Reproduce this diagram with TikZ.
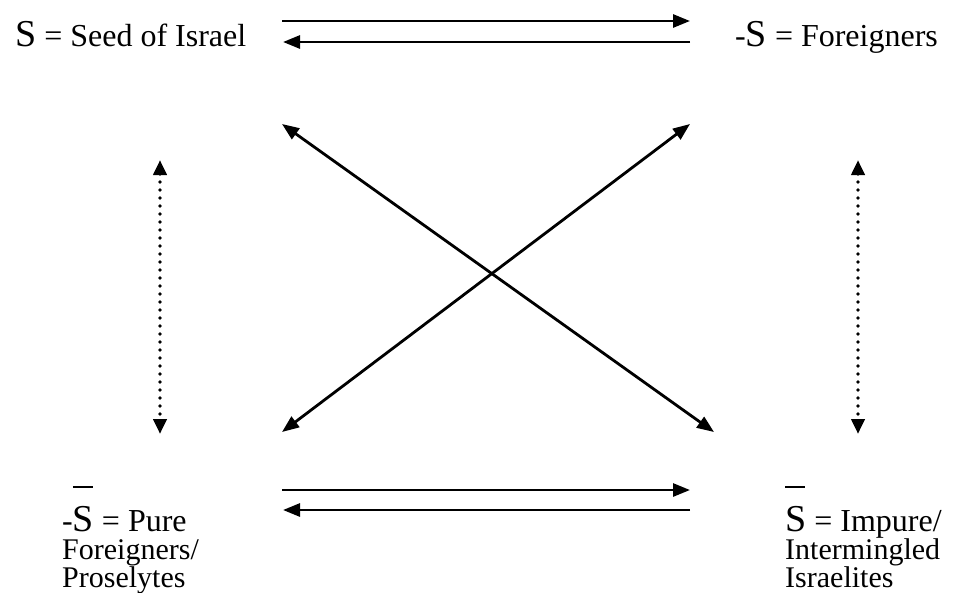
\documentclass[tikz,border=0pt]{standalone}
\usepackage{fontspec}
\setmainfont{Liberation Serif}
\usetikzlibrary{arrows.meta}
\newcommand{\barS}{\makebox[0pt][l]{\raisebox{1.12em}{\rule{0.52em}{0.055em}}}S}
\newcommand{\bigS}[1]{{\fontsize{38}{40}\selectfont #1}}
\newcommand{\firstline}[1]{{\fontsize{32}{28}\selectfont #1}}
\tikzset{
  lbl/.style={anchor=base west, inner sep=0pt, align=left, font=\fontsize{30}{28}\selectfont},
  hlbl/.style={anchor=base west, inner sep=0pt, font=\fontsize{32}{34}\selectfont},
  arr/.style={line width=2.8pt, -{Triangle[length=17pt,width=13pt]}},
  darr/.style={line width=2.8pt, {Triangle[length=17pt,width=13pt]}-{Triangle[length=17pt,width=13pt]}},
  dotarr/.style={line width=3.8pt, line cap=round, dash pattern=on 0pt off 8pt,
     {Triangle[length=15pt,width=13pt,line cap=butt]}-{Triangle[length=15pt,width=13pt,line cap=butt]}}
}
\begin{document}
\begin{tikzpicture}[x=1pt,y=-1pt]
\useasboundingbox (0,0) rectangle (955,592);
% labels
\node[hlbl] (tl) at (15,46) {\bigS{S} = Seed of Israel};
\node[hlbl] (tr) at (735,46) {-\bigS{S} = Foreigners};
\node[lbl] (bl) at (62,587) {\firstline{-\bigS{\barS} = Pure}\\Foreigners/\\Proselytes};
\node[lbl] (br) at (785,587) {\firstline{\bigS{\barS} = Impure/}\\Intermingled\\Israelites};
% anchor coordinates
\coordinate (t1a) at (282,21);  \coordinate (t1b) at (690,21);
\coordinate (t2a) at (283,42);  \coordinate (t2b) at (690,42);
\coordinate (b1a) at (282,490); \coordinate (b1b) at (690,490);
\coordinate (b2a) at (283,510); \coordinate (b2b) at (690,510);
\coordinate (dA) at (282,124);  \coordinate (dB) at (714,432);
\coordinate (dC) at (690,124);  \coordinate (dD) at (282,432);
\coordinate (vLt) at (160,160); \coordinate (vLb) at (160,434);
\coordinate (vRt) at (858,160); \coordinate (vRb) at (858,434);
% arrows
\draw[arr] (t1a) -- (t1b);
\draw[arr] (t2b) -- (t2a);
\draw[arr] (b1a) -- (b1b);
\draw[arr] (b2b) -- (b2a);
\draw[darr] (dA) -- (dB);
\draw[darr] (dC) -- (dD);
\draw[dotarr] (vLt) -- (vLb);
\draw[dotarr] (vRt) -- (vRb);
\end{tikzpicture}
\end{document}
